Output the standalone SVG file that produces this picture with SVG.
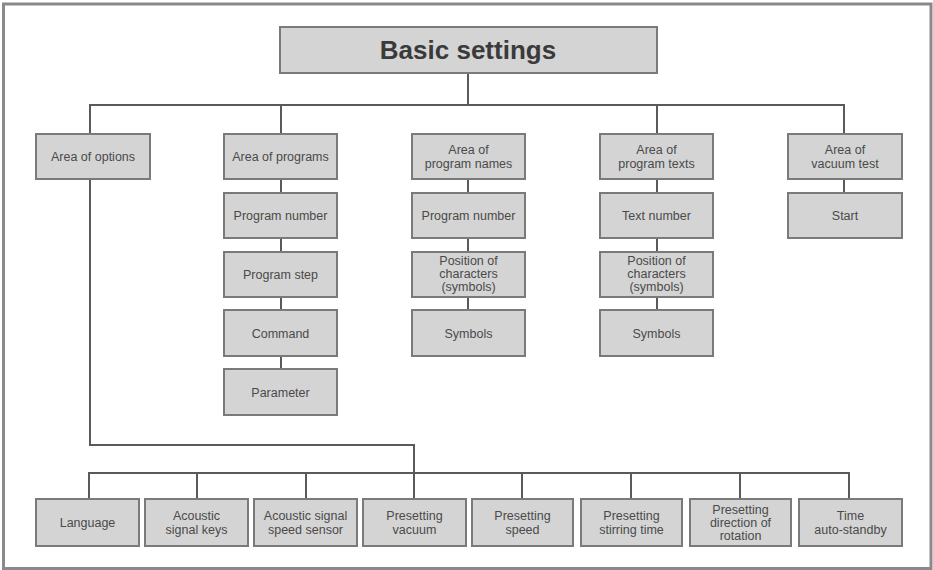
<svg xmlns="http://www.w3.org/2000/svg" width="933" height="570" viewBox="0 0 933 570">
<style>
.frame{fill:#fff;stroke:#8a8a8a;stroke-width:3}
.box{fill:#d4d4d4;stroke:#7a7a7a;stroke-width:2}
.lbl{font-family:"Liberation Sans Narrow","Liberation Sans",Arial,sans-serif;font-size:12.5px;fill:#4a4a4a;text-anchor:middle}
.title{font-family:"Liberation Sans",Arial,sans-serif;font-size:26px;font-weight:bold;fill:#3a3a3a;text-anchor:middle}
.conn{fill:none;stroke:#5a5a5a;stroke-width:2}
</style>
<rect class="frame" x="3.5" y="4" width="927.5" height="564.5"/>
<g id="connectors">
<path class="conn" d="M468,73 V105 M90,134 V105 H844 V134 M281,105 V134 M657,105 V134"/>
<path class="conn" d="M281,179 V193 M281,238 V252 M281,297 V310 M281,356 V369"/>
<path class="conn" d="M468,179 V193 M468,238 V252 M468,297 V310"/>
<path class="conn" d="M657,179 V193 M657,238 V252 M657,297 V310"/>
<path class="conn" d="M844,179 V193"/>
<path class="conn" d="M90,179 V445 H414 V499"/>
<path class="conn" d="M89,499 V473 H849 V499 M197,473 V499 M306,473 V499 M522,473 V499 M631,473 V499 M740,473 V499"/>
</g>
<g id="basic-settings"><rect class="box" x="280" y="27" width="377" height="46"/><text class="title" x="468" y="59">Basic settings</text></g>
<g id="area-options"><rect class="box" x="36" y="134" width="114" height="45"/><text class="lbl" x="93" y="161">Area of options</text></g>
<g id="area-programs"><rect class="box" x="224" y="134" width="113" height="45"/><text class="lbl" x="280.5" y="161">Area of programs</text></g>
<g id="prog-number"><rect class="box" x="224" y="193" width="113" height="45"/><text class="lbl" x="280.5" y="220">Program number</text></g>
<g id="prog-step"><rect class="box" x="224" y="252" width="113" height="45"/><text class="lbl" x="280.5" y="279">Program step</text></g>
<g id="command"><rect class="box" x="224" y="310" width="113" height="46"/><text class="lbl" x="280.5" y="338">Command</text></g>
<g id="parameter"><rect class="box" x="224" y="369" width="113" height="46"/><text class="lbl" x="280.5" y="397">Parameter</text></g>
<g id="area-names"><rect class="box" x="412" y="134" width="113" height="45"/><text class="lbl" x="468.5" y="154">Area of</text><text class="lbl" x="468.5" y="168">program names</text></g>
<g id="names-number"><rect class="box" x="412" y="193" width="113" height="45"/><text class="lbl" x="468.5" y="220">Program number</text></g>
<g id="names-position"><rect class="box" x="412" y="252" width="113" height="45"/><text class="lbl" x="468.5" y="265">Position of</text><text class="lbl" x="468.5" y="278">characters</text><text class="lbl" x="468.5" y="291">(symbols)</text></g>
<g id="names-symbols"><rect class="box" x="412" y="310" width="113" height="46"/><text class="lbl" x="468.5" y="338">Symbols</text></g>
<g id="area-texts"><rect class="box" x="600" y="134" width="113" height="45"/><text class="lbl" x="656.5" y="154">Area of</text><text class="lbl" x="656.5" y="168">program texts</text></g>
<g id="text-number"><rect class="box" x="600" y="193" width="113" height="45"/><text class="lbl" x="656.5" y="220">Text number</text></g>
<g id="texts-position"><rect class="box" x="600" y="252" width="113" height="45"/><text class="lbl" x="656.5" y="265">Position of</text><text class="lbl" x="656.5" y="278">characters</text><text class="lbl" x="656.5" y="291">(symbols)</text></g>
<g id="texts-symbols"><rect class="box" x="600" y="310" width="113" height="46"/><text class="lbl" x="656.5" y="338">Symbols</text></g>
<g id="area-vacuum"><rect class="box" x="788" y="134" width="114" height="45"/><text class="lbl" x="845" y="154">Area of</text><text class="lbl" x="845" y="168">vacuum test</text></g>
<g id="start"><rect class="box" x="788" y="193" width="114" height="45"/><text class="lbl" x="845" y="220">Start</text></g>
<g id="language"><rect class="box" x="36" y="499" width="103" height="47"/><text class="lbl" x="87.5" y="527">Language</text></g>
<g id="acoustic-keys"><rect class="box" x="145" y="499" width="103" height="47"/><text class="lbl" x="196.5" y="520">Acoustic</text><text class="lbl" x="196.5" y="534">signal keys</text></g>
<g id="acoustic-sensor"><rect class="box" x="254" y="499" width="103" height="47"/><text class="lbl" x="305.5" y="520">Acoustic signal</text><text class="lbl" x="305.5" y="534">speed sensor</text></g>
<g id="preset-vacuum"><rect class="box" x="363" y="499" width="103" height="47"/><text class="lbl" x="414.5" y="520">Presetting</text><text class="lbl" x="414.5" y="534">vacuum</text></g>
<g id="preset-speed"><rect class="box" x="472" y="499" width="101" height="47"/><text class="lbl" x="522.5" y="520">Presetting</text><text class="lbl" x="522.5" y="534">speed</text></g>
<g id="preset-stirring"><rect class="box" x="581" y="499" width="101" height="47"/><text class="lbl" x="631.5" y="520">Presetting</text><text class="lbl" x="631.5" y="534">stirring time</text></g>
<g id="preset-direction"><rect class="box" x="690" y="499" width="101" height="47"/><text class="lbl" x="740.5" y="514">Presetting</text><text class="lbl" x="740.5" y="527">direction of</text><text class="lbl" x="740.5" y="540">rotation</text></g>
<g id="time-standby"><rect class="box" x="799" y="499" width="103" height="47"/><text class="lbl" x="850.5" y="520">Time</text><text class="lbl" x="850.5" y="534">auto-standby</text></g>
</svg>
